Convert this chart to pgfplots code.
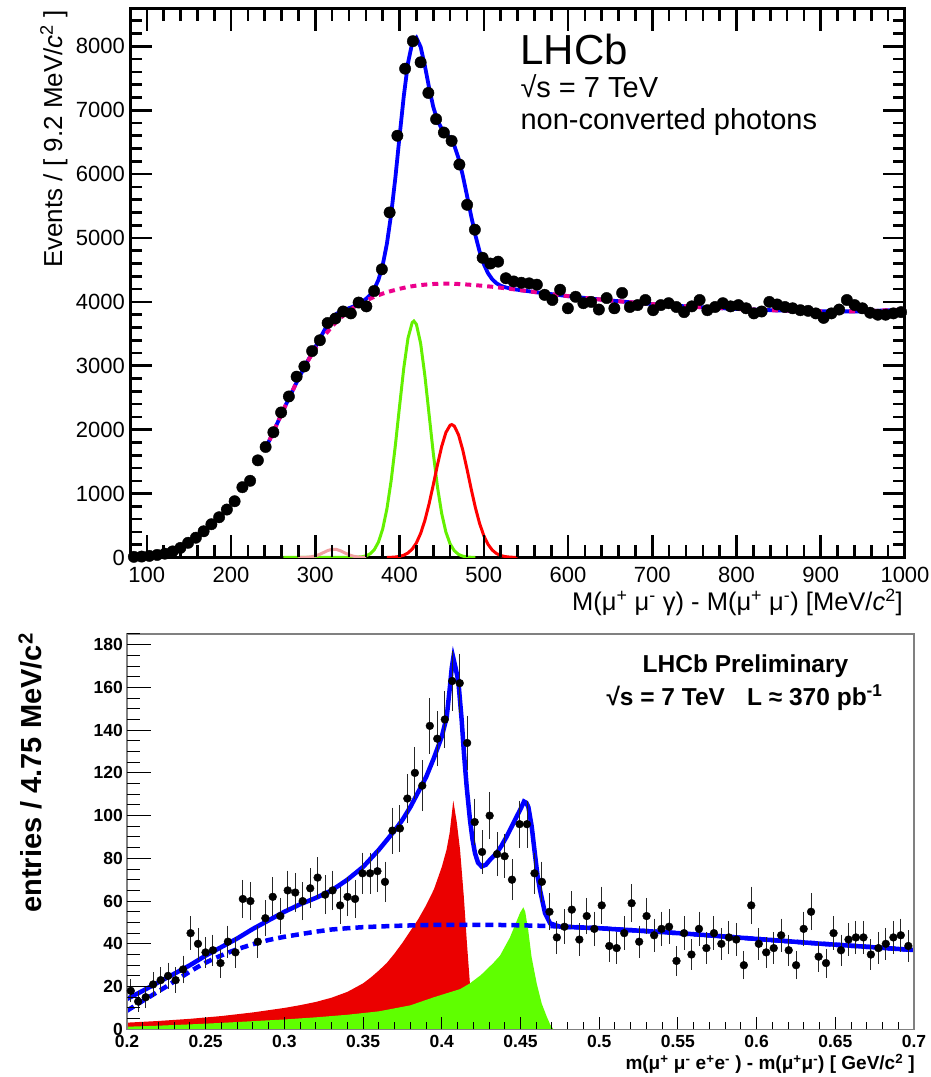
\documentclass[border=0pt]{standalone}
\usepackage{fontspec}
\setmainfont{Liberation Sans}
\usepackage{pgfplots}
\usepackage{pgfplotstable}
\pgfplotsset{compat=1.18}
\definecolor{tgreen}{RGB}{100,240,0}
\definecolor{tpink}{RGB}{240,160,160}
\definecolor{bred}{RGB}{235,0,0}
\definecolor{bgreen}{RGB}{95,255,0}

\pgfplotstableread{
x y
84.6 10
93.8 15
103.0 25
112.2 40
121.4 60
130.6 95
139.8 150
149.0 230
158.2 310
167.4 410
176.6 520
185.8 630
195.0 750
204.2 880
213.4 1100
222.6 1200
231.8 1520
241.0 1730
250.2 1960
259.4 2270
268.6 2520
277.8 2830
287.0 2990
296.2 3230
305.4 3400
314.6 3670
323.8 3740
333.0 3850
342.2 3820
351.4 3990
360.6 3930
369.8 4170
379.0 4510
388.2 5400
397.4 6600
406.6 7650
415.8 8080
425.0 7750
434.2 7270
443.4 6860
452.6 6650
461.8 6520
471.0 6150
480.2 5520
489.4 5130
498.6 4690
507.8 4600
517.0 4630
526.2 4370
535.4 4320
544.6 4300
553.8 4290
563.0 4270
572.2 4110
581.4 4030
590.6 4190
599.8 3900
609.0 4080
618.2 3980
627.4 4000
636.6 3880
645.8 4060
655.0 3900
664.2 4140
673.4 3920
682.6 3950
691.8 4030
701.0 3870
710.2 3950
719.4 3980
728.6 3920
737.8 3840
747.0 3930
756.2 4030
765.4 3870
774.6 3920
783.8 3980
793.0 3930
802.2 3950
811.4 3900
820.6 3820
829.8 3850
839.0 4000
848.2 3960
857.4 3920
866.6 3900
875.8 3870
885.0 3860
894.2 3820
903.4 3750
912.6 3820
921.8 3880
931.0 4030
940.2 3950
949.4 3900
958.6 3830
967.8 3800
977.0 3800
986.2 3820
995.4 3840
}\topdata

\pgfplotstableread{
x y e
0.2024 18 4.2
0.2071 13 3.6
0.2119 15 3.9
0.2166 21 4.6
0.2214 23 4.8
0.2261 25 5.0
0.2309 23 4.8
0.2356 28 5.3
0.2404 45 6.7
0.2451 40 6.3
0.2499 36 6.0
0.2546 37 6.1
0.2594 31 5.6
0.2641 41 6.4
0.2689 36 6.0
0.2736 61 7.8
0.2784 60 7.7
0.2831 41 6.4
0.2879 52 7.2
0.2926 62 7.9
0.2974 53 7.3
0.3021 65 8.1
0.3069 64 8.0
0.3116 60 7.7
0.3164 66 8.1
0.3211 71 8.4
0.3259 63 7.9
0.3306 65 8.1
0.3354 58 7.6
0.3401 62 7.9
0.3449 61 7.8
0.3496 73 8.5
0.3544 73 8.5
0.3591 74 8.6
0.3639 69 8.3
0.3686 93 9.6
0.3734 94 9.7
0.3781 108 10.4
0.3829 120 11.0
0.3876 114 10.7
0.3924 142 11.9
0.3971 136 11.7
0.4019 145 12.0
0.4066 163 12.8
0.4114 162 12.7
0.4161 134 11.6
0.4209 97 9.8
0.4256 83 9.1
0.4304 100 10.0
0.4351 82 9.1
0.4399 81 9.0
0.4446 70 8.4
0.4494 96 9.8
0.4541 96 9.8
0.4589 73 8.5
0.4636 69 8.3
0.4684 55 7.4
0.4731 43 6.6
0.4779 48 6.9
0.4826 56 7.5
0.4874 42 6.5
0.4921 53 7.3
0.4969 47 6.9
0.5016 58 7.6
0.5064 39 6.2
0.5111 38 6.2
0.5159 45 6.7
0.5206 59 7.7
0.5254 41 6.4
0.5301 53 7.3
0.5349 44 6.6
0.5396 47 6.9
0.5444 48 6.9
0.5491 32 5.7
0.5539 45 6.7
0.5586 35 5.9
0.5634 47 6.9
0.5681 38 6.2
0.5729 45 6.7
0.5776 40 6.3
0.5824 43 6.6
0.5871 42 6.5
0.5919 30 5.5
0.5966 58 7.6
0.6014 40 6.3
0.6061 36 6.0
0.6109 38 6.2
0.6156 44 6.6
0.6204 37 6.1
0.6251 30 5.5
0.6299 47 6.9
0.6346 55 7.4
0.6394 34 5.8
0.6441 31 5.6
0.6489 45 6.7
0.6536 37 6.1
0.6584 42 6.5
0.6631 43 6.6
0.6679 43 6.6
0.6726 35 5.9
0.6774 38 6.2
0.6821 40 6.3
0.6869 43 6.6
0.6916 44 6.6
0.6964 39 6.2
}\botdata

\begin{document}
\begin{tikzpicture}
\path[use as bounding box] (0,0) rectangle (931pt,1077pt);

% ---------------- top panel ----------------
\begin{axis}[name=top, at={(130pt,519.5pt)}, anchor=south west,
  width=775pt, height=548.5pt, scale only axis,
  xmin=80, xmax=1000, ymin=0, ymax=8584,
  xtick={100,200,300,400,500,600,700,800,900,1000},
  ytick={0,1000,2000,3000,4000,5000,6000,7000,8000},
  tick align=inside,
  major tick length=0pt, minor tick length=0pt,
  axis line style={line width=3pt},
  /pgf/number format/1000 sep={},
  ticklabel style={font=\fontsize{22}{22}\selectfont},
  xticklabel style={inner sep=1pt, yshift=-8pt},
  yticklabel style={inner sep=1pt, xshift=-4pt},
  /pgf/number format/assume math mode=true,
]
\addplot[only marks, mark=*, mark size=5.7pt, black] table[x=x,y=y] {\topdata};
\addplot[tgreen, line width=3pt] coordinates {
(262,0) (300,0) (340,0) (355,10) (360,25) (365,57) (370,122) (375,243) (380,447)
(385,762) (390,1201) (395,1753) (400,2369) (405,2963) (410,3431) (415,3677) (417,3700)
(420,3649) (425,3352) (430,2851) (435,2244) (440,1636) (445,1103) (450,690) (455,398)
(460,213) (465,106) (470,48) (475,21) (480,8) (485,3) (490,0)};
\addplot[tpink, line width=3pt] coordinates {
(280,0) (285,1) (290,4) (295,10) (300,24) (305,48) (310,79) (315,110) (320,128)
(325,126) (330,104) (335,72) (340,42) (345,21) (350,9) (355,3) (360,0)};
\addplot[red, line width=3pt] coordinates {
(385,0) (390,3) (395,8) (400,17) (405,36) (410,71) (415,131) (420,229) (425,376)
(430,578) (435,837) (440,1136) (445,1450) (450,1738) (455,1956) (460,2070) (462,2080)
(465,2057) (470,1920) (475,1684) (480,1387) (485,1074) (490,781) (495,533) (500,342)
(505,206) (510,117) (515,62) (520,31) (525,15) (530,7) (535,3) (540,0)};
\addplot[blue, line width=3.8pt] coordinates {
(240,1680) (245,1820) (250,1960) (255,2105) (260,2250) (265,2390) (270,2530) (275,2665)
(280,2800) (285,2926) (290,3054) (295,3170) (300,3294) (305,3413) (310,3539) (315,3650)
(320,3748) (325,3811) (330,3854) (335,3877) (340,3902) (345,3926) (350,3959) (355,3998)
(360,4045) (365,4107) (370,4202) (375,4348) (380,4577) (385,4912) (390,5371) (395,5941)
(400,6591) (405,7219) (410,7737) (415,8053) (420,8133) (425,7991) (430,7699) (435,7356)
(440,7052) (445,6836) (450,6713) (455,6639) (460,6568) (465,6446) (470,6248) (475,5981)
(480,5667) (485,5344) (490,5044) (495,4789) (500,4592) (505,4449) (510,4354) (515,4292)
(520,4253) (525,4230) (530,4214) (540,4190) (550,4172) (560,4155) (580,4122) (600,4090)
(620,4062) (650,4022) (700,3965) (750,3922) (800,3890) (850,3866) (900,3852) (950,3852)
(1000,3880)};
\addplot[magenta, line width=4pt, dash pattern=on 6pt off 5pt] coordinates {
(240,1680) (245,1820) (250,1960) (255,2105) (260,2250) (265,2390) (270,2530) (275,2665)
(280,2800) (285,2925) (290,3050) (295,3160) (300,3270) (305,3365) (310,3460) (315,3540)
(320,3620) (325,3685) (330,3750) (335,3805) (340,3860) (345,3905) (350,3950) (355,3985)
(360,4020) (370,4080) (380,4130) (390,4170) (400,4205) (410,4235) (420,4255) (430,4270)
(440,4280) (450,4285) (460,4285) (470,4280) (480,4272) (490,4262) (500,4250) (510,4237)
(520,4222) (530,4207) (540,4190) (550,4172) (560,4155) (580,4122) (600,4090) (620,4062)
(650,4022) (700,3965) (750,3922) (800,3890) (850,3866) (900,3852) (950,3852) (1000,3880)};
\end{axis}

% top panel ticks (inside, all four sides)
\begin{scope}[line width=2.6pt, black, line cap=butt]
\foreach \k in {0,...,45} {
  \draw ({146.848pt+\k*16.8478pt},519.5pt) -- ++(0,12pt);
  \draw ({146.848pt+\k*16.8478pt},1068pt) -- ++(0,-12pt);
}
\foreach \k in {0,...,9} {
  \draw ({146.848pt+\k*84.2391pt},519.5pt) -- ++(0,22pt);
  \draw ({146.848pt+\k*84.2391pt},1068pt) -- ++(0,-22pt);
}
\foreach \k in {1,...,42} {
  \draw (130pt,{519.5pt+\k*12.7796pt}) -- ++(12pt,0);
  \draw (905pt,{519.5pt+\k*12.7796pt}) -- ++(-12pt,0);
}
\foreach \k in {1,...,8} {
  \draw (130pt,{519.5pt+\k*63.8979pt}) -- ++(22pt,0);
  \draw (905pt,{519.5pt+\k*63.8979pt}) -- ++(-22pt,0);
}
\end{scope}

\node[anchor=base west, font=\fontsize{42}{42}\selectfont] at (517pt,1012pt) {LHCb};
\node[anchor=base west, font=\fontsize{29}{29}\selectfont] at (517pt,979pt) {√s = 7 TeV};
\node[anchor=base west, font=\fontsize{29}{29}\selectfont] at (517pt,947pt) {non-converted photons};
\node[anchor=base east, font=\fontsize{25.5}{25.5}\selectfont, inner sep=0pt] at (903pt,466pt)
  {M(μ\textsuperscript{+} μ\textsuperscript{-} γ) - M(μ\textsuperscript{+} μ\textsuperscript{-}) [MeV/\textit{c}\textsuperscript{2}]};
\node[rotate=90, anchor=base east, font=\fontsize{26}{26}\selectfont, inner sep=0pt] at (62pt,1067pt)
  {Events / [ 9.2 MeV/\textit{c}\textsuperscript{2} ]};

% ---------------- bottom panel ----------------
\begin{axis}[name=bot, at={(127pt,47.7pt)}, anchor=south west,
  width=787pt, height=395.3pt, scale only axis, axis on top,
  xmin=0.2, xmax=0.7, ymin=0, ymax=185,
  xtick={0.2,0.25,0.3,0.35,0.4,0.45,0.5,0.55,0.6,0.65,0.7},
  ytick={0,20,40,60,80,100,120,140,160,180},
  xtick pos=bottom, ytick pos=left,
  tick align=inside,
  major tick length=0pt, minor tick length=0pt,
  axis line style={draw=gray, line width=1.5pt},
  /pgf/number format/fixed,
  ticklabel style={font=\bfseries\fontsize{17.5}{17.5}\selectfont},
  xticklabel style={inner sep=1pt, yshift=-5pt},
  yticklabel style={inner sep=1pt, xshift=-3pt},
  /pgf/number format/assume math mode=true,
]
\addplot[fill=bred, draw=none] coordinates {
(0.2,0) (0.2,3.1) (0.22,3.9) (0.24,4.9) (0.26,6.2) (0.28,7.9) (0.30,10.0) (0.31,11.3)
(0.32,12.8) (0.33,14.8) (0.34,17.5) (0.35,21.5) (0.355,24.3) (0.36,27.5) (0.365,31)
(0.37,35.5) (0.375,40.5) (0.38,46) (0.385,51.5) (0.39,58) (0.395,65.5) (0.40,76)
(0.403,84) (0.405,92) (0.4073,107) (0.4095,97) (0.4116,84) (0.414,62) (0.416,40)
(0.4179,21) (0.4195,5) (0.42,0)} \closedcycle;
\addplot[fill=bgreen, draw=none] coordinates {
(0.2,0) (0.2,1.2) (0.22,1.7) (0.24,2.3) (0.26,3.0) (0.28,3.8) (0.30,4.6) (0.32,5.6)
(0.34,6.8) (0.36,8.4) (0.38,11.2) (0.395,15) (0.405,17.3) (0.4116,18.8) (0.4179,21.5)
(0.425,25.5) (0.4327,31) (0.437,34.5) (0.4433,43) (0.4455,47) (0.4497,54.5) (0.4518,57.1)
(0.453,55) (0.4549,46.5) (0.457,34) (0.4591,26) (0.4603,21.5) (0.4635,12) (0.4667,5.9)
(0.469,2) (0.471,0)} \closedcycle;
\addplot[blue, line width=4.5pt, dash pattern=on 8pt off 5pt] coordinates {
(0.2,8.7) (0.205,11) (0.21,13.3) (0.215,15.5) (0.22,17.8) (0.225,20) (0.23,22.4)
(0.235,24.7) (0.24,27) (0.245,29.2) (0.25,31.2) (0.255,33) (0.26,34.6) (0.265,36.1)
(0.27,37.5) (0.28,39.8) (0.29,41.8) (0.30,43.3) (0.31,44.5) (0.32,45.7) (0.33,46.7)
(0.34,47.3) (0.35,47.8) (0.36,48.1) (0.37,48.4) (0.38,48.6) (0.39,48.8) (0.40,48.9)
(0.42,48.9) (0.44,48.8) (0.46,48.5) (0.48,48) (0.50,47.3) (0.52,46.4) (0.54,45.5)
(0.56,44.5) (0.58,43.4) (0.60,42.3) (0.62,41.2) (0.64,40.1) (0.66,39.1) (0.68,38.1) (0.70,37.1)};
\addplot[blue, line width=4.5pt] coordinates {
(0.200,14.2) (0.210,18) (0.220,22) (0.230,26) (0.240,30) (0.250,34.5) (0.260,38.5)
(0.270,42.5) (0.280,47) (0.290,51) (0.300,55) (0.310,58.5) (0.320,61.5) (0.330,65)
(0.340,70) (0.350,76) (0.355,80) (0.360,84) (0.365,88.5) (0.370,93) (0.375,98)
(0.380,104) (0.385,111) (0.390,118) (0.395,127) (0.400,137) (0.4031,146) (0.4052,160.5)
(0.4063,169) (0.4073,173.8) (0.4085,170) (0.4105,163) (0.4126,145) (0.4141,129)
(0.4158,113.6) (0.4179,98) (0.4195,89) (0.4211,82.4) (0.4230,78) (0.4253,76.2)
(0.428,77) (0.4306,79.3) (0.4349,82.5) (0.438,86) (0.4412,90.2) (0.4445,95) (0.4476,99.6)
(0.450,103) (0.4522,106.6) (0.4537,106) (0.455,104) (0.4571,95) (0.4591,82.4) (0.4608,72)
(0.4624,65.2) (0.4656,54.3) (0.4688,49.6) (0.4752,48) (0.49,47.6) (0.50,47.3) (0.52,46.4)
(0.54,45.5) (0.56,44.5) (0.58,43.4) (0.60,42.3) (0.62,41.2) (0.64,40.1) (0.66,39.1)
(0.68,38.1) (0.70,37.1)};
\addplot[only marks, mark=*, mark size=3.9pt, black,
  error bars/.cd, y dir=both, y explicit,
  error bar style={line width=0.9pt, black!85},
  error mark options={mark size=2.5pt, line width=0.9pt, black!85}]
  table[x=x, y=y, y error=e] {\botdata};
\end{axis}

% bottom panel ticks (inside, bottom and left)
\begin{scope}[line width=1pt, black, line cap=butt]
\foreach \k in {1,...,49} {
  \draw ({127pt+\k*15.74pt},47.7pt) -- ++(0,7pt);
}
\foreach \k in {1,...,9} {
  \draw ({127pt+\k*78.7pt},47.7pt) -- ++(0,12pt);
}
\foreach \k in {1,...,37} {
  \draw (127pt,{47.7pt+\k*10.6838pt}) -- ++(12.5pt,0);
}
\foreach \k in {1,...,9} {
  \draw (127pt,{47.7pt+\k*42.7352pt}) -- ++(24pt,0);
}
\end{scope}

\node[anchor=base, font=\bfseries\fontsize{24.5}{24.5}\selectfont] at (745.5pt,404.3pt) {LHCb Preliminary};
\node[anchor=base, font=\bfseries\fontsize{24.5}{24.5}\selectfont] at (744.5pt,371pt)
  {√s = 7 TeV\hspace{0.9em}L ≈ 370 pb\textsuperscript{-1}};
\node[anchor=base east, font=\bfseries\fontsize{19}{19}\selectfont, inner sep=0pt] at (915pt,7pt)
  {m(μ\textsuperscript{+} μ\textsuperscript{-} e\textsuperscript{+}e\textsuperscript{-} ) - m(μ\textsuperscript{+}μ\textsuperscript{-}) [ GeV/c\textsuperscript{2} ]};
\node[rotate=90, anchor=base east, font=\bfseries\fontsize{29}{29}\selectfont, inner sep=0pt] at (41.7pt,444pt)
  {entries / 4.75 MeV/c\textsuperscript{2}};
\end{tikzpicture}
\end{document}
